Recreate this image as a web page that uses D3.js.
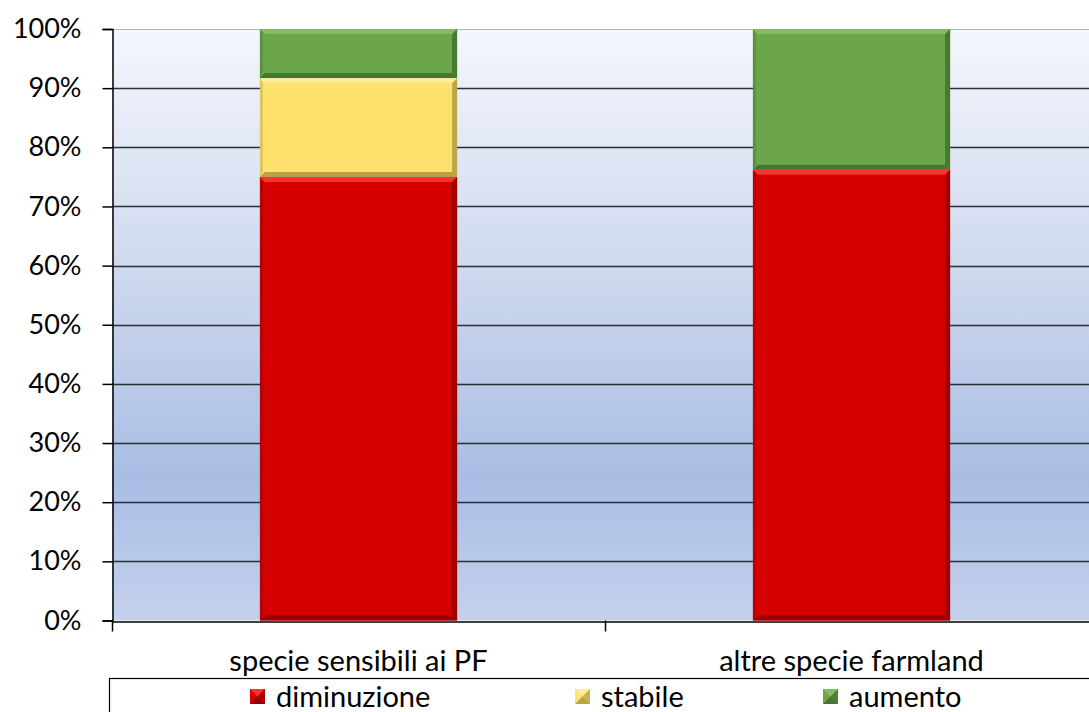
<!DOCTYPE html>
<html>
<head>
<meta charset="utf-8">
<script src="https://cdn.jsdelivr.net/npm/d3@7/dist/d3.min.js"></script>
<style>
  html, body { margin: 0; padding: 0; background: #ffffff; }
  svg { display: block; }
  text { font-family: Lato, "Open Sans", sans-serif; fill: #000; }
</style>
</head>
<body>
<svg id="chart" width="1089" height="712"></svg>
<script>
// Categories and stacked shares (percent of species per trend)
const categories = ["specie sensibili ai PF", "altre specie farmland"];
const seriesNames = ["diminuzione", "stabile", "aumento"];
const diminuzione = [75.0, 76.2];
const stabile = [16.7, 0.0];
const aumento = [8.3, 23.8];
const yTicks = [0, 10, 20, 30, 40, 50, 60, 70, 80, 90, 100];

const colors = { diminuzione: "#d50000", stabile: "#ffe16e", aumento: "#6ca64a" };
const lightEdge = { diminuzione: "#ff4040", stabile: "#fff0a0", aumento: "#8cc06a" };
const darkEdge = { diminuzione: "#8c0000", stabile: "#a8913c", aumento: "#3e6a2a" };

const tickFont = 27;
const labelFont = 29;

const rows = categories.map((c, i) => ({
  category: c,
  diminuzione: diminuzione[i],
  stabile: stabile[i],
  aumento: aumento[i]
}));

const svg = d3.select("#chart");
const plotLeft = 112, plotRight = 1098, plotTop = 29, plotBottom = 620.5;

const x = d3.scaleBand().domain(categories).range([plotLeft, plotRight]).paddingInner(0.6).paddingOuter(0.3);
const y = d3.scaleLinear().domain([0, 100]).range([plotBottom, plotTop]);

// Plot background gradient
const defs = svg.append("defs");
const bg = defs.append("linearGradient").attr("id", "bg").attr("x1", 0).attr("y1", 0).attr("x2", 0).attr("y2", 1);
bg.append("stop").attr("offset", "0%").attr("stop-color", "#f4f6fc");
bg.append("stop").attr("offset", "42%").attr("stop-color", "#cdd8ee");
bg.append("stop").attr("offset", "76%").attr("stop-color", "#a9bde4");
bg.append("stop").attr("offset", "100%").attr("stop-color", "#c4d1ec");

svg.append("rect")
  .attr("x", plotLeft).attr("y", plotTop)
  .attr("width", plotRight - plotLeft).attr("height", plotBottom - plotTop)
  .attr("fill", "url(#bg)");

// top border of plot area
svg.append("line")
  .attr("x1", plotLeft).attr("x2", plotRight).attr("y1", plotTop + 0.5).attr("y2", plotTop + 0.5)
  .attr("stroke", "#b8b8b8").attr("stroke-width", 1);

// Gridlines
svg.append("g").selectAll("line")
  .data(yTicks.filter(t => t > 0 && t < 100))
  .join("line")
  .attr("x1", plotLeft).attr("x2", plotRight)
  .attr("y1", d => Math.round(y(d)) + 0.5).attr("y2", d => Math.round(y(d)) + 0.5)
  .attr("stroke", "#2a2f38").attr("stroke-width", 1.5);

// Stacked bars with bevelled edges
const stack = d3.stack().keys(seriesNames);
const layers = stack(rows);
const bev = 5;
const pts = arr => arr.map(p => p.join(",")).join(" ");

layers.forEach(layer => {
  const key = layer.key;
  layer.forEach(seg => {
    const v0 = seg[0], v1 = seg[1];
    if (v1 - v0 <= 0) return;
    const x0 = x(seg.data.category), x1 = x0 + x.bandwidth();
    const yt = y(v1), yb = y(v0);
    const g = svg.append("g");
    g.append("rect").attr("x", x0).attr("y", yt).attr("width", x1 - x0).attr("height", yb - yt)
      .attr("fill", colors[key]);
    // top highlight
    g.append("polygon")
      .attr("points", pts([[x0, yt], [x1, yt], [x1 - bev, yt + bev], [x0 + bev, yt + bev]]))
      .attr("fill", lightEdge[key]).attr("opacity", 0.8);
    // left edge
    g.append("polygon")
      .attr("points", pts([[x0, yt], [x0 + bev - 2, yt + bev], [x0 + bev - 2, yb - bev], [x0, yb]]))
      .attr("fill", darkEdge[key]).attr("opacity", 0.35);
    // right edge
    g.append("polygon")
      .attr("points", pts([[x1, yt], [x1 - bev, yt + bev], [x1 - bev, yb - bev], [x1, yb]]))
      .attr("fill", darkEdge[key]).attr("opacity", 0.75);
    // bottom shade
    g.append("polygon")
      .attr("points", pts([[x0, yb], [x1, yb], [x1 - bev, yb - bev], [x0 + bev, yb - bev]]))
      .attr("fill", darkEdge[key]).attr("opacity", 0.8);
  });
});

// Y axis
const yAxis = svg.append("g").attr("transform", `translate(${plotLeft + 0.5},0)`)
  .call(d3.axisLeft(y).tickValues(yTicks).tickFormat(d => d + "%").tickSize(10).tickPadding(21));
yAxis.select(".domain").attr("stroke", "#000").attr("stroke-width", 1.5);
yAxis.selectAll(".tick line").attr("stroke", "#000").attr("stroke-width", 1.5);
yAxis.selectAll("text").attr("font-size", tickFont).attr("font-family", "Lato, sans-serif").attr("fill", "#000");

// X axis
const xAxis = svg.append("g").attr("transform", `translate(0,${Math.round(plotBottom) + 0.5})`)
  .call(d3.axisBottom(x).tickSize(0).tickPadding(29));
xAxis.select(".domain").attr("stroke", "#000").attr("stroke-width", 1.5);
xAxis.selectAll("text").attr("font-size", labelFont).attr("font-family", "Lato, sans-serif").attr("fill", "#000");

// Category separators on the x axis
svg.append("g").selectAll("line")
  .data([x.range()[0], (x(categories[0]) + x.bandwidth() + x(categories[1])) / 2])
  .join("line")
  .attr("x1", d => Math.round(d) + 0.5).attr("x2", d => Math.round(d) + 0.5)
  .attr("y1", plotBottom).attr("y2", plotBottom + 11)
  .attr("stroke", "#000").attr("stroke-width", 1.5);

// Legend
const legend = svg.append("g");
legend.append("rect")
  .attr("x", 109.5).attr("y", 678.5).attr("width", 1100).attr("height", 60)
  .attr("fill", "#fff").attr("stroke", "#000").attr("stroke-width", 1.2);

const legendX = [250, 575, 823];
seriesNames.forEach((name, i) => {
  const gx = legendX[i], gy = 689;
  const s = 15;
  const item = legend.append("g");
  item.append("rect").attr("x", gx).attr("y", gy).attr("width", s).attr("height", s).attr("fill", colors[name]);
  item.append("polygon")
    .attr("points", pts([[gx, gy], [gx + s, gy], [gx + s / 2, gy + s / 2]]))
    .attr("fill", lightEdge[name]).attr("opacity", 0.8);
  item.append("polygon")
    .attr("points", pts([[gx + s, gy], [gx + s, gy + s], [gx + s / 2, gy + s / 2]]))
    .attr("fill", darkEdge[name]).attr("opacity", 0.6);
  item.append("polygon")
    .attr("points", pts([[gx, gy + s], [gx + s, gy + s], [gx + s / 2, gy + s / 2]]))
    .attr("fill", darkEdge[name]).attr("opacity", 0.8);
  item.append("text")
    .attr("x", gx + s + 11).attr("y", gy + s / 2)
    .attr("dy", "0.36em")
    .attr("font-size", labelFont)
    .text(name);
});
</script>
</body>
</html>
